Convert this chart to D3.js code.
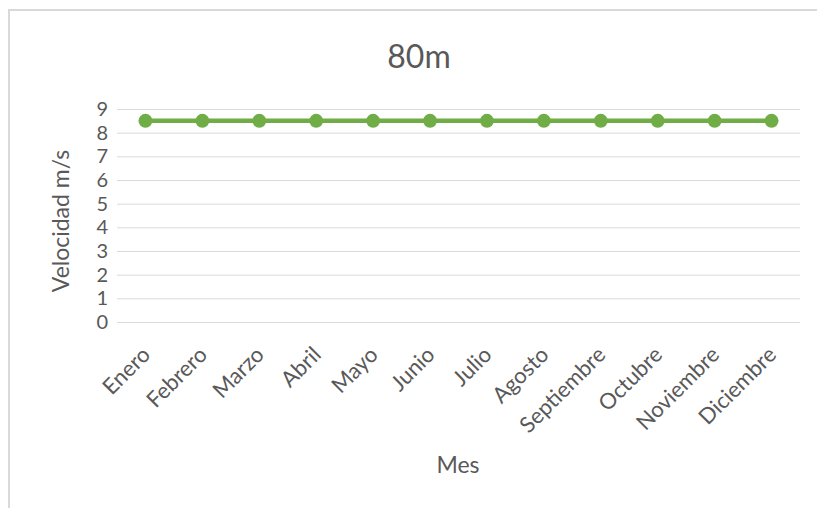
<!DOCTYPE html>
<html>
<head>
<meta charset="utf-8">
<script src="https://cdn.jsdelivr.net/npm/d3@7"></script>
<style>
  body { margin: 0; background: #fff; }
  text { font-family: Lato, "Open Sans", sans-serif; fill: #595959; }
</style>
</head>
<body>
<div id="chart"></div>
<script>
var meses = ["Enero", "Febrero", "Marzo", "Abril", "Mayo", "Junio", "Julio",
  "Agosto", "Septiembre", "Octubre", "Noviembre", "Diciembre"];
var velocidad = [8.5, 8.5, 8.5, 8.5, 8.5, 8.5, 8.5, 8.5, 8.5, 8.5, 8.5, 8.5];
var yTicks = [0, 1, 2, 3, 4, 5, 6, 7, 8, 9];
var titulo = "80m";

var W = 817, H = 508;
var margin = { top: 109, right: 17, bottom: 186, left: 117 },
  width = W - margin.left - margin.right,
  height = H - margin.top - margin.bottom;

var svg = d3.select("#chart").append("svg")
  .attr("width", W)
  .attr("height", H);

// marco del grafico
svg.append("path")
  .attr("d", "M9,508 V10 H817")
  .attr("fill", "none")
  .attr("stroke", "#d9d9d9")
  .attr("stroke-width", 2);

var g = svg.append("g")
  .attr("transform", "translate(" + margin.left + "," + margin.top + ")");

var x = d3.scaleBand().domain(meses).range([0, width]);
var y = d3.scaleLinear().domain([0, 9]).range([height, 0]);

// rejilla + eje y
var yAxis = d3.axisLeft(y).tickValues(yTicks).tickSize(-width).tickFormat(d3.format("d"));
g.append("g")
  .call(yAxis)
  .call(function (a) {
    a.select(".domain").remove();
    a.selectAll(".tick line").attr("stroke", "#d9d9d9");
    a.selectAll(".tick text").attr("x", -9).style("font-size", "20px").attr("fill", "#595959");
  });

// eje x
g.append("g")
  .attr("transform", "translate(0," + height + ")")
  .call(d3.axisBottom(x).tickSize(0))
  .call(function (a) {
    a.select(".domain").remove();
    a.selectAll(".tick text")
      .style("font-size", "22px")
      .attr("fill", "#595959")
      .attr("text-anchor", "end")
      .attr("dy", 0)
      .attr("transform", "translate(4,32) rotate(-45)");
  });

var line = d3.line()
  .x(function (d, i) { return x(meses[i]) + x.bandwidth() / 2; })
  .y(function (d) { return y(d); });

g.append("path")
  .datum(velocidad)
  .attr("d", line)
  .attr("fill", "none")
  .attr("stroke", "#70ad47")
  .attr("stroke-width", 4.5);

g.selectAll(".pt")
  .data(velocidad)
  .enter().append("circle")
  .attr("cx", function (d, i) { return x(meses[i]) + x.bandwidth() / 2; })
  .attr("cy", function (d) { return y(d); })
  .attr("r", 7)
  .attr("fill", "#70ad47");

svg.append("text")
  .attr("x", 419).attr("y", 68)
  .attr("text-anchor", "middle")
  .style("font-size", "32px")
  .text(titulo);

svg.append("text")
  .attr("transform", "translate(69,221) rotate(-90)")
  .attr("text-anchor", "middle")
  .style("font-size", "23px")
  .text("Velocidad m/s");

svg.append("text")
  .attr("x", 458).attr("y", 473)
  .attr("text-anchor", "middle")
  .style("font-size", "23px")
  .text("Mes");
</script>
</body>
</html>
